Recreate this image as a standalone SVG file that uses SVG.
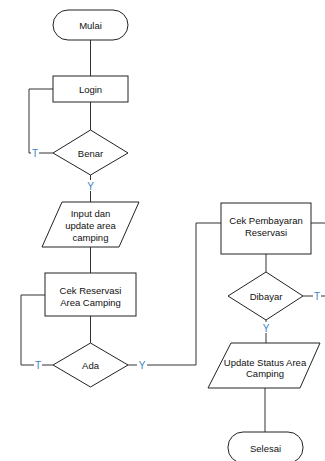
<svg xmlns="http://www.w3.org/2000/svg" width="325" height="461" viewBox="0 0 325 461">
<style>
.s{fill:#fff;stroke:#222;stroke-width:1}
.t{font-family:"Liberation Sans",Arial,sans-serif;font-size:9.5px;fill:#111;text-anchor:middle;dominant-baseline:central}
.c{fill:none;stroke:#333;stroke-width:1}
.l{font-family:"Liberation Sans",Arial,sans-serif;font-size:10px;fill:#3d85c6;text-anchor:middle;dominant-baseline:central}
.bg{fill:#fff}
</style>
<rect width="325" height="461" fill="#fff"/>
<g id="connectors">
<path class="c" d="M90.5 40V76"/>
<path class="c" d="M90.5 102V130"/>
<path class="c" d="M53 153H29V89H53"/>
<path class="c" d="M90.5 175V202"/>
<path class="c" d="M90.5 247V273"/>
<path class="c" d="M90.5 316V343"/>
<path class="c" d="M53 365H21V295H45"/>
<path class="c" d="M128 365H196V223H221"/>
<path class="c" d="M311 223H326"/>
<path class="c" d="M266 254V272"/>
<path class="c" d="M303 296H326"/>
<path class="c" d="M266 320V343"/>
<path class="c" d="M265 388V432"/>
<rect class="bg" x="31" y="147" width="8" height="12"/>
<text class="l" x="35" y="153">T</text>
<rect class="bg" x="86" y="180" width="9" height="11"/>
<text class="l" x="90.5" y="186">Y</text>
<rect class="bg" x="34" y="359" width="8" height="12"/>
<text class="l" x="38" y="365">T</text>
<rect class="bg" x="137" y="359" width="10" height="12"/>
<text class="l" x="142" y="365">Y</text>
<rect class="bg" x="313" y="290" width="8" height="12"/>
<text class="l" x="317" y="296">T</text>
<rect class="bg" x="261.5" y="322" width="9" height="11"/>
<text class="l" x="266" y="328">Y</text>
</g>
<g id="mulai"><rect class="s" x="53" y="10" width="75" height="30" rx="15"/><text class="t" x="90.5" y="25">Mulai</text></g>
<g id="login"><rect class="s" x="53" y="76" width="75" height="26"/><text class="t" x="90.5" y="89">Login</text></g>
<g id="benar"><polygon class="s" points="90.5,130 128,153 90.5,175 53,153"/><text class="t" x="90.5" y="153">Benar</text></g>
<g id="input"><polygon class="s" points="62,202 139,202 119,247 42,247"/><text class="t" x="90.5" y="213">Input dan</text><text class="t" x="90.5" y="225">update area</text><text class="t" x="90.5" y="237">camping</text></g>
<g id="cekreservasi"><rect class="s" x="45" y="273" width="91" height="43"/><text class="t" x="90.5" y="290">Cek Reservasi</text><text class="t" x="90.5" y="302">Area Camping</text></g>
<g id="ada"><polygon class="s" points="90.5,343 128,365 90.5,387 53,365"/><text class="t" x="90.5" y="365">Ada</text></g>
<g id="cekpembayaran"><rect class="s" x="221" y="203" width="90" height="51"/><text class="t" x="266" y="220">Cek Pembayaran</text><text class="t" x="266" y="232">Reservasi</text></g>
<g id="dibayar"><polygon class="s" points="266,272 303,296 266,320 228,296"/><text class="t" x="266" y="296">Dibayar</text></g>
<g id="update"><polygon class="s" points="231,343 320,343 300,388 208,388"/><text class="t" x="265" y="362">Update Status Area</text><text class="t" x="265" y="373">Camping</text></g>
<g id="selesai"><rect class="s" x="228" y="432" width="75" height="31" rx="15"/><text class="t" x="265.5" y="448">Selesai</text></g>
</svg>
